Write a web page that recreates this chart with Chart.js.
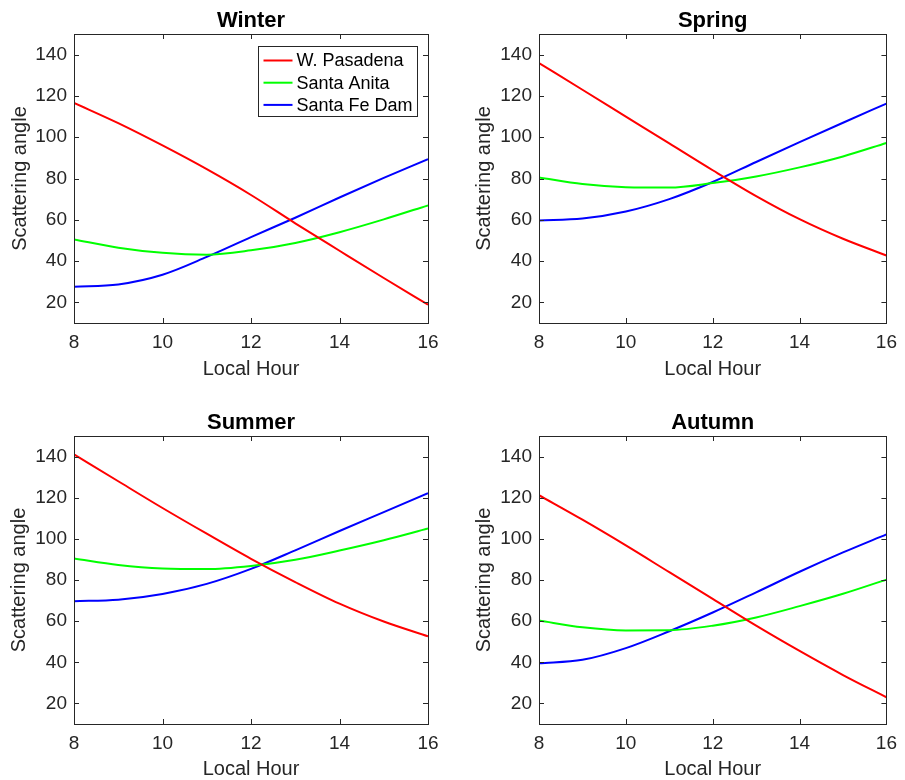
<!DOCTYPE html>
<html>
<head>
<meta charset="utf-8">
<script src="https://cdn.jsdelivr.net/npm/chart.js@4.4.1/dist/chart.umd.min.js"></script>
<style>
  html, body { margin: 0; padding: 0; background: #fff; overflow: hidden; }
  body { width: 905px; height: 780px; position: relative; }
  canvas { position: absolute; }
</style>
</head>
<body>
<canvas id="winter" width="450" height="390" style="left:0;top:0"></canvas>
<canvas id="spring" width="450" height="390" style="left:455px;top:0"></canvas>
<canvas id="summer" width="450" height="392" style="left:0;top:390px"></canvas>
<canvas id="autumn" width="450" height="392" style="left:455px;top:390px"></canvas>
<script>
// ── DATA ──
const HOURS   = [8, 9, 10, 11, 12, 13, 14, 15, 16];
const X_TICKS = [8, 10, 12, 14, 16];
const Y_TICKS = [20, 40, 60, 80, 100, 120, 140];
const SITES   = ['W. Pasadena', 'Santa Anita', 'Santa Fe Dam'];

const winterPasadena = [116.6, 106.8, 96, 84.5, 72, 58.3, 45, 31.8, 18.9];
const winterAnita    = [50.5, 46.5, 44, 43.1, 45.2, 48.8, 54, 60.2, 67];
const winterFeDam    = [27.6, 28.7, 33.4, 42, 51.6, 61, 70.8, 80.3, 89.4];

const springPasadena = [135.9, 123, 110, 97, 84, 71.5, 60.3, 50.8, 42.7];
const springAnita    = [80.5, 77.3, 75.8, 75.6, 77.8, 81, 85.4, 90.7, 97.2];
const springFeDam    = [59.7, 60.6, 64, 70, 78.3, 88, 97.6, 107, 116.3];

const summerPasadena = [141.1, 128, 115, 102.5, 90.3, 79, 68.5, 59.8, 52.6];
const summerAnita    = [90.4, 87.3, 85.6, 85.3, 86.8, 89.8, 94.3, 99.3, 105];
const summerFeDam    = [69.7, 70.4, 73.2, 78.1, 85.4, 94.4, 103.8, 113, 122.2];

const autumnPasadena = [121.2, 109.3, 96.8, 83.8, 70.8, 57.8, 45.5, 33.8, 23];
const autumnAnita    = [60.3, 57, 55.5, 55.6, 57.8, 61.8, 67.3, 73.3, 80.2];
const autumnFeDam    = [39.5, 41.2, 46.9, 55.1, 64.2, 74, 84, 93.4, 102.2];

// ── STYLE ──
const FONT        = "'Liberation Sans', Arial, Helvetica, sans-serif";
const AXIS_COLOR  = '#262626';
const LINE_COLORS = ['#ff0000', '#00ff00', '#0000ff'];
const TICK_LEN    = 5;

// panel frame + inward ticks + title + inset legend
const panelPlugin = {
  id: 'panel',
  afterDatasetsDraw(chart, args, opts) {
    const { ctx, chartArea: a, scales: { x, y } } = chart;
    ctx.save();
    ctx.strokeStyle = AXIS_COLOR;
    ctx.lineWidth = 1;
    ctx.beginPath();
    x.ticks.forEach(t => {
      const px = Math.round(x.getPixelForValue(t.value)) + 0.5;
      ctx.moveTo(px, a.bottom); ctx.lineTo(px, a.bottom - TICK_LEN);
      ctx.moveTo(px, a.top);    ctx.lineTo(px, a.top + TICK_LEN);
    });
    y.ticks.forEach(t => {
      const py = Math.round(y.getPixelForValue(t.value)) + 0.5;
      ctx.moveTo(a.left, py);  ctx.lineTo(a.left + TICK_LEN, py);
      ctx.moveTo(a.right, py); ctx.lineTo(a.right - TICK_LEN, py);
    });
    ctx.stroke();
    ctx.strokeRect(Math.round(a.left) + 0.5, Math.round(a.top) + 0.5,
                   Math.round(a.right - a.left), Math.round(a.bottom - a.top));

    // title, centred on the plot area
    ctx.fillStyle = '#000';
    ctx.font = 'bold 22px ' + FONT;
    ctx.textAlign = 'center';
    ctx.textBaseline = 'alphabetic';
    ctx.fillText(opts.title, (a.left + a.right) / 2, a.top - 7);

    if (opts.legend) {
      ctx.font = '18px ' + FONT;
      const sets = chart.data.datasets;
      const textW = Math.max(...sets.map(d => ctx.measureText(d.label).width));
      const boxW = 5 + 29 + 4 + textW + 5;
      const boxH = 70;
      const bx = Math.round(a.right - 11 - boxW) + 0.5;
      const by = Math.round(a.top + 12) + 0.5;
      ctx.fillStyle = '#fff';
      ctx.fillRect(bx, by, boxW, boxH);
      ctx.strokeStyle = AXIS_COLOR;
      ctx.lineWidth = 1;
      ctx.strokeRect(bx, by, Math.round(boxW), boxH);
      ctx.textAlign = 'left';
      ctx.textBaseline = 'middle';
      sets.forEach((d, i) => {
        const ry = by + 14 + i * 22.2;
        ctx.strokeStyle = d.borderColor;
        ctx.lineWidth = 2;
        ctx.beginPath();
        ctx.moveTo(bx + 5, ry); ctx.lineTo(bx + 34, ry);
        ctx.stroke();
        ctx.fillStyle = '#000';
        ctx.fillText(d.label, bx + 38, ry + 1);
      });
    }
    ctx.restore();
  }
};

// layout for each subplot (canvas-relative plot box and axis title offsets)
const PANELS = [
  { id: 'winter', title: 'Winter', series: [winterPasadena, winterAnita, winterFeDam],
    plot: { l: 74, t: 34, r: 428, b: 323 }, h: 390, yTitlePad: 8, xTitleGap: 46, legend: true },
  { id: 'spring', title: 'Spring', series: [springPasadena, springAnita, springFeDam],
    plot: { l: 84, t: 34, r: 437, b: 323 }, h: 390, yTitlePad: 17, xTitleGap: 46 },
  { id: 'summer', title: 'Summer', series: [summerPasadena, summerAnita, summerFeDam],
    plot: { l: 74, t: 46, r: 428, b: 334 }, h: 392, yTitlePad: 7, xTitleGap: 45 },
  { id: 'autumn', title: 'Autumn', series: [autumnPasadena, autumnAnita, autumnFeDam],
    plot: { l: 84, t: 46, r: 437, b: 334 }, h: 392, yTitlePad: 17, xTitleGap: 45 },
];

function initPanel(p) {
  const ctx = document.getElementById(p.id);
  const xHeight = p.h - p.plot.b;
  const xTitleBottom = p.h - (p.plot.b + p.xTitleGap) - 12;

  new Chart(ctx, {
    type: 'line',
    data: {
      datasets: p.series.map((vals, i) => ({
        label: SITES[i],
        data: HOURS.map((h, k) => ({ x: h, y: vals[k] })),
        borderColor: LINE_COLORS[i],
        borderWidth: 2,
        pointRadius: 0,
        cubicInterpolationMode: 'monotone',
        fill: false,
      }))
    },
    options: {
      responsive: false,
      animation: false,
      events: [],
      layout: { padding: { left: 0, top: p.plot.t, right: 450 - p.plot.r, bottom: 0 } },
      scales: {
        x: {
          type: 'linear', min: 8, max: 16,
          grid: { display: false, drawTicks: false },
          border: { display: false },
          afterBuildTicks: s => { s.ticks = X_TICKS.map(v => ({ value: v })); },
          afterFit: s => { s.height = xHeight; },
          ticks: { color: AXIS_COLOR, padding: 8, maxRotation: 0, font: { family: FONT, size: 19 } },
          title: {
            display: true, text: 'Local Hour', color: AXIS_COLOR,
            font: { family: FONT, size: 20 }, padding: { top: 0, bottom: xTitleBottom }
          }
        },
        y: {
          type: 'linear', min: 10, max: 150,
          grid: { display: false, drawTicks: false },
          border: { display: false },
          afterBuildTicks: s => { s.ticks = Y_TICKS.map(v => ({ value: v })); },
          afterFit: s => { s.width = p.plot.l; },
          ticks: { color: AXIS_COLOR, padding: 7, font: { family: FONT, size: 19 } },
          title: {
            display: true, text: 'Scattering angle', color: AXIS_COLOR,
            font: { family: FONT, size: 20 }, padding: { top: p.yTitlePad, bottom: 0 }
          }
        }
      },
      plugins: {
        legend: { display: false },
        tooltip: { enabled: false },
        panel: { title: p.title, legend: !!p.legend }
      }
    },
    plugins: [panelPlugin]
  });
}

PANELS.forEach(initPanel);
</script>
</body>
</html>
